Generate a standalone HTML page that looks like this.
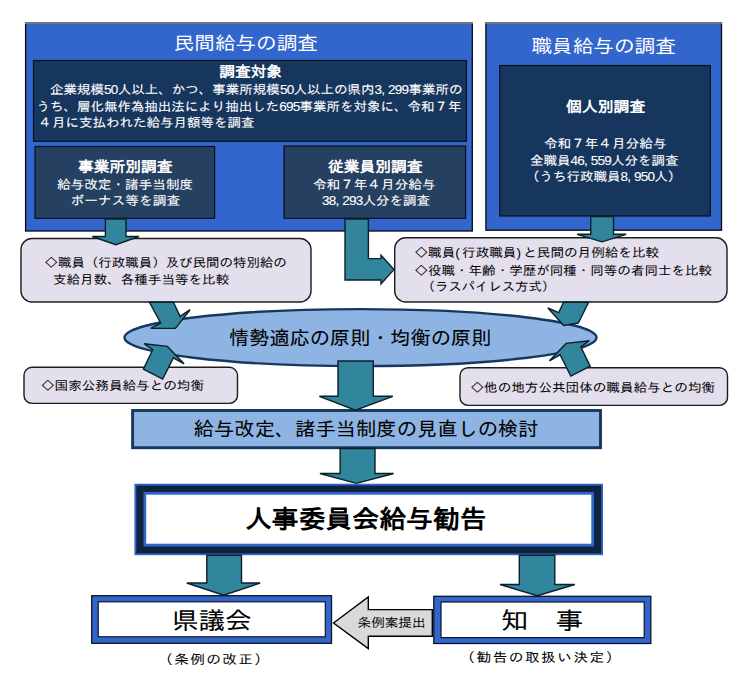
<!DOCTYPE html>
<html lang="ja"><head><meta charset="utf-8"><title>給与勧告の仕組み</title>
<style>
html,body{margin:0;padding:0;background:#fff;}
svg{display:block;}
text{font-family:"Liberation Sans", "IPAGothic", sans-serif;white-space:pre;}
</style></head><body>
<svg width="749" height="685" viewBox="0 0 749 685">
<rect x="25.6" y="23.0" width="446.7" height="208.0" fill="#3366CC" stroke="#05080F" stroke-width="1.3"/>
<rect x="25.0" y="22.0" width="447.9" height="2.1" fill="#6E7B7A"/>
<rect x="485.9" y="23.0" width="235.6" height="207.2" fill="#3366CC" stroke="#05080F" stroke-width="1.3"/>
<rect x="485.3" y="22.0" width="236.8" height="2.1" fill="#6E7B7A"/>
<rect x="33.5" y="60.5" width="433.0" height="80.8" fill="#17365D" stroke="#08111F" stroke-width="1.2"/>
<rect x="35.0" y="146.5" width="179.6" height="71.8" fill="#254061" stroke="#08111F" stroke-width="1.2"/>
<rect x="284.0" y="146.0" width="181.6" height="72.3" fill="#254061" stroke="#08111F" stroke-width="1.2"/>
<rect x="499.7" y="65.5" width="210.7" height="150.5" fill="#17365D" stroke="#08111F" stroke-width="1.2"/>
<ellipse cx="360.5" cy="337.6" rx="236" ry="28.5" fill="#8EB4E3" stroke="#17375E" stroke-width="2.4"/>
<rect x="21.0" y="238.5" width="290.0" height="63.5" fill="#E4DFEC" rx="11" stroke="#1c1c1c" stroke-width="1.4"/>
<rect x="394.7" y="237.8" width="332.3" height="64.2" fill="#E4DFEC" rx="11" stroke="#1c1c1c" stroke-width="1.4"/>
<rect x="24.0" y="367.3" width="213.5" height="36.1" fill="#E4DFEC" rx="8" stroke="#1c1c1c" stroke-width="1.4"/>
<rect x="460.0" y="367.7" width="267.5" height="37.7" fill="#E4DFEC" rx="8" stroke="#1c1c1c" stroke-width="1.4"/>
<polygon points="105.4,219.0 126.0,219.0 126.0,236.5 139.0,236.5 115.8,244.7 92.3,236.5 105.4,236.5" fill="#31859C" stroke="#0B2028" stroke-width="1.4" stroke-linejoin="miter"/>
<polygon points="590.7,216.5 613.5,216.5 613.5,234.3 626.2,234.3 602.0,241.8 577.2,234.3 590.7,234.3" fill="#31859C" stroke="#0B2028" stroke-width="1.4" stroke-linejoin="miter"/>
<polygon points="345.0,219.0 368.4,219.0 368.4,258.6 381.0,258.6 381.0,255.2 394.0,269.6 381.0,284.0 381.0,280.0 345.0,280.0" fill="#31859C" stroke="#0B2028" stroke-width="1.4" stroke-linejoin="miter"/>
<polygon points="149.4,302.3 173.4,302.3 180.1,316.4 190.1,309.7 175.4,328.4 150.7,328.4 160.7,323.0" fill="#31859C" stroke="#0B2028" stroke-width="1.4" stroke-linejoin="miter"/>
<polygon points="563.6,302.3 588.6,302.3 578.3,323.0 563.7,325.4 547.9,308.0 558.7,312.6" fill="#31859C" stroke="#0B2028" stroke-width="1.4" stroke-linejoin="miter"/>
<polygon points="143.4,369.1 152.7,349.7 144.0,343.7 167.4,346.4 184.1,363.8 173.4,357.8 162.7,379.1" fill="#31859C" stroke="#0B2028" stroke-width="1.4" stroke-linejoin="miter"/>
<polygon points="590.1,366.1 580.8,346.7 589.5,340.7 566.1,343.4 549.4,360.8 560.1,354.8 570.8,376.1" fill="#31859C" stroke="#0B2028" stroke-width="1.4" stroke-linejoin="miter"/>
<rect x="132.6" y="410.5" width="467.9" height="37.2" fill="#8EB4E3" stroke="#17375E" stroke-width="2.9"/>
<polygon points="338.0,361.0 373.3,361.0 373.3,396.3 392.8,396.3 355.4,410.2 319.4,396.3 338.0,396.3" fill="#31859C" stroke="#0B2028" stroke-width="1.4" stroke-linejoin="miter"/>
<polygon points="340.1,448.5 375.0,448.5 375.0,473.5 393.7,473.5 356.4,483.4 319.9,473.5 340.1,473.5" fill="#31859C" stroke="#0B2028" stroke-width="1.4" stroke-linejoin="miter"/>
<rect x="134.4" y="483.7" width="468.6" height="71.5" fill="#3366CC"/>
<rect x="136.3" y="485.5" width="465.0" height="68.0" fill="#0F243E"/>
<rect x="143.5" y="492.0" width="450.5" height="54.5" fill="#3366CC"/>
<rect x="146.2" y="494.7" width="445.1" height="49.0" fill="#FFFFFF"/>
<polygon points="206.8,555.3 241.5,555.3 241.5,583.0 260.2,583.0 223.7,595.2 186.8,583.0 206.8,583.0" fill="#31859C" stroke="#0B2028" stroke-width="1.4" stroke-linejoin="miter"/>
<polygon points="519.3,555.3 554.8,555.3 554.8,584.5 574.8,584.5 537.4,595.7 500.0,584.5 519.3,584.5" fill="#31859C" stroke="#0B2028" stroke-width="1.4" stroke-linejoin="miter"/>
<rect x="91.7" y="595.7" width="239.8" height="47.6" fill="#3366CC" stroke="#0A1526" stroke-width="1.3"/>
<rect x="98.2" y="601.8" width="227.1" height="35.0" fill="#FFFFFF" stroke="#0A1526" stroke-width="1.2"/>
<rect x="433.8" y="596.3" width="217.0" height="47.2" fill="#3366CC" stroke="#0A1526" stroke-width="1.3"/>
<rect x="441.0" y="602.0" width="203.2" height="35.6" fill="#FFFFFF" stroke="#0A1526" stroke-width="1.2"/>
<polygon points="333.5,623.0 368.3,597.0 368.3,609.6 432.3,609.6 432.3,636.3 368.3,636.3 368.3,648.6" fill="#D9D9D9" stroke="#000" stroke-width="1.4" stroke-linejoin="miter"/>
<text transform="translate(173.80 49.55) scale(1.0826 1)" font-size="19" fill="#fff">民間給与の調査</text>
<text transform="translate(219.20 77.45) scale(1.0479 1)" font-size="15" font-weight="bold" fill="#fff">調査対象</text>
<text transform="translate(50.00 94.25) scale(1.0827 1)" font-size="12.5" stroke="#fff" stroke-width="0.10" fill="#fff">企業規模<tspan letter-spacing="-0.056em">50</tspan>人以上、かつ、事業所規模<tspan letter-spacing="-0.056em">50</tspan>人以上の県内<tspan letter-spacing="-0.056em">3</tspan><tspan letter-spacing="0.222em">,</tspan><tspan letter-spacing="-0.056em">299</tspan>事業所の</text>
<text transform="translate(36.40 110.75) scale(1.0811 1)" font-size="12.5" stroke="#fff" stroke-width="0.10" fill="#fff">うち、層化無作為抽出法により抽出した<tspan letter-spacing="-0.056em">695</tspan>事業所を対象に、令和７年</text>
<text transform="translate(38.40 127.20) scale(1.0816 1)" font-size="12.5" stroke="#fff" stroke-width="0.10" fill="#fff">４月に支払われた給与月額等を調査</text>
<text transform="translate(78.00 172.20) scale(1.0512 1)" font-size="15" font-weight="bold" fill="#fff">事業所別調査</text>
<text transform="translate(57.00 188.60) scale(1.0897 1)" font-size="12.5" stroke="#fff" stroke-width="0.10" fill="#fff">給与改定・諸手当制度</text>
<text transform="translate(70.40 205.20) scale(1.1002 1)" font-size="12.5" stroke="#fff" stroke-width="0.10" fill="#fff">ボーナス等を調査</text>
<text transform="translate(328.00 172.20) scale(1.0512 1)" font-size="15" font-weight="bold" fill="#fff">従業員別調査</text>
<text transform="translate(313.00 188.60) scale(1.0907 1)" font-size="12.5" stroke="#fff" stroke-width="0.10" fill="#fff">令和７年４月分給与</text>
<text transform="translate(322.00 205.20) scale(1.0816 1)" font-size="12.5" stroke="#fff" stroke-width="0.10" fill="#fff"><tspan letter-spacing="-0.056em">38</tspan><tspan letter-spacing="0.222em">,</tspan><tspan letter-spacing="-0.056em">293</tspan>人分を調査</text>
<text transform="translate(531.40 52.80) scale(1.0874 1)" font-size="19" fill="#fff">職員給与の調査</text>
<text transform="translate(566.00 111.80) scale(1.0573 1)" font-size="15" font-weight="bold" fill="#fff">個人別調査</text>
<text transform="translate(544.00 148.00) scale(1.0907 1)" font-size="12.5" stroke="#fff" stroke-width="0.10" fill="#fff">令和７年４月分給与</text>
<text transform="translate(530.00 165.00) scale(1.0816 1)" font-size="12.5" stroke="#fff" stroke-width="0.10" fill="#fff">全職員<tspan letter-spacing="-0.056em">46</tspan><tspan letter-spacing="0.222em">,</tspan><tspan letter-spacing="-0.056em">559</tspan>人分を調査</text>
<text transform="translate(526.00 181.20) scale(1.0816 1)" font-size="12.5" stroke="#fff" stroke-width="0.10" fill="#fff">（うち行政職員<tspan letter-spacing="-0.056em">8</tspan><tspan letter-spacing="0.222em">,</tspan><tspan letter-spacing="-0.056em">950</tspan>人）</text>
<text transform="translate(44.50 266.85) scale(1.0776 1)" font-size="12.5" fill="#000">◇職員（行政職員）及び民間の特別給の</text>
<text transform="translate(53.00 284.15) scale(1.0853 1)" font-size="12.5" fill="#000">支給月数、各種手当等を比較</text>
<text transform="translate(414.50 257.30) scale(1.0883 1)" font-size="12.5" fill="#000">◇職員<tspan letter-spacing="0.167em">(</tspan>行政職員<tspan letter-spacing="0.167em">)</tspan>と民間の月例給を比較</text>
<text transform="translate(414.50 274.85) scale(1.0831 1)" font-size="12.5" fill="#000">◇役職・年齢・学歴が同種・同等の者同士を比較</text>
<text transform="translate(421.70 290.85) scale(1.0687 1)" font-size="12.5" fill="#000">（ラスパイレス方式）</text>
<text transform="translate(41.00 389.90) scale(1.0877 1)" font-size="12.5" fill="#000">◇国家公務員給与との均衡</text>
<text transform="translate(470.50 391.50) scale(1.0883 1)" font-size="12.5" fill="#000">◇他の地方公共団体の職員給与との均衡</text>
<text transform="translate(229.00 344.75) scale(1.0354 1)" font-size="19.5" stroke="#000" stroke-width="0.10" fill="#000">情勢適応の原則・均衡の原則</text>
<text transform="translate(193.80 436.00) scale(1.0407 1)" font-size="19.5" stroke="#000" stroke-width="0.10" fill="#000">給与改定、諸手当制度の見直しの検討</text>
<text transform="translate(245.00 528.40) scale(1.0528 1)" font-size="25.5" font-weight="bold" fill="#000">人事委員会給与勧告</text>
<text transform="translate(172.30 628.50) scale(1.1054 1)" font-size="24" stroke="#000" stroke-width="0.10" fill="#000">県議会</text>
<text transform="translate(500.50 628.50) scale(1.1501 1)" font-size="24" stroke="#000" stroke-width="0.10" fill="#000">知　事</text>
<text transform="translate(158.20 663.60) scale(1.1270 1)" font-size="13" letter-spacing="1.20" stroke="#000" stroke-width="0.05" fill="#000">（条例の改正）</text>
<text transform="translate(460.33 661.50) scale(1.1270 1)" font-size="13" letter-spacing="1.34" stroke="#000" stroke-width="0.05" fill="#000">（勧告の取扱い決定）</text>
<text transform="translate(357.60 627.15) scale(1.0866 1)" font-size="12.5" fill="#000">条例案提出</text>
</svg>
</body></html>
